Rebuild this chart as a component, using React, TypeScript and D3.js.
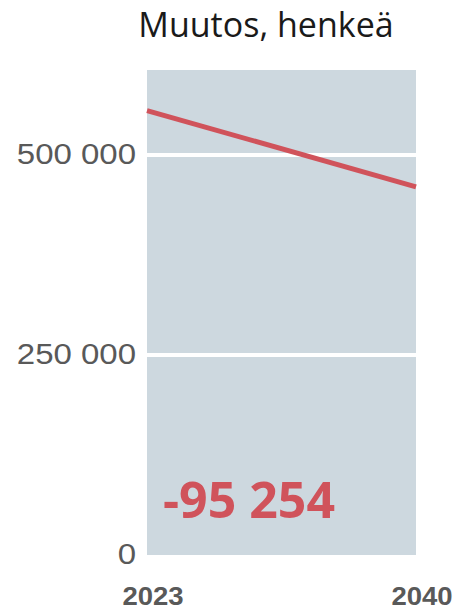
import React from 'react';
import * as d3 from 'd3';

const years = [2023, 2040];
const population = [555500, 460246];
const yTicks = [0, 250000, 500000];
const title = 'Muutos, henkeä';

const W = 458, H = 611;
const plot = { left: 147, right: 416, top: 70, bottom: 555 };

const fmt = (v: number) => d3.format(',')(v).replace(/,/g, ' ');

const App = () => {
    const x = d3.scaleLinear().domain([years[0], years[1]]).range([plot.left, plot.right]);
    const y = d3.scaleLinear().domain([0, 606250]).range([plot.bottom, plot.top]);

    const line = d3.line<number>()
        .x((d, i) => x(years[i]))
        .y(d => y(d));

    const change = population[population.length - 1] - population[0];
    const changeText = (change < 0 ? '-' : '+') + fmt(Math.abs(change));

    return (
        <svg width={W} height={H} style={{ position: 'absolute', left: 0, top: 0 }}>
            <text x={266} y={37} textAnchor="middle" fontFamily="Open Sans" fontSize={34} fill="#1a1a1a">
                {title}
            </text>
            <rect x={plot.left} y={plot.top} width={plot.right - plot.left} height={plot.bottom - plot.top} fill="#cdd8df" />
            {yTicks.filter(t => t > 0).map(t => (
                <line key={t} x1={plot.left} x2={plot.right} y1={y(t)} y2={y(t)} stroke="#fff" strokeWidth={4} />
            ))}
            <path d={line(population) || ''} fill="none" stroke="#d0535b" strokeWidth={5} />
            {yTicks.map(t => (
                <text key={t} transform={`translate(136,${y(t) - 2}) scale(1.1,1)`} textAnchor="end" dy="0.35em"
                    fontFamily="Liberation Sans" fontSize={30} fill="#595959">
                    {fmt(t)}
                </text>
            ))}
            {years.map(yr => (
                <text key={yr} transform={`translate(${x(yr) + 6},605) scale(1.1,1)`} textAnchor="middle"
                    fontFamily="Liberation Sans" fontWeight="bold" fontSize={25} fill="#595959">
                    {yr}
                </text>
            ))}
            <text x={163} y={518} fontFamily="Open Sans" fontWeight="bold" fontSize={50} fill="#d0535b">
                {changeText}
            </text>
        </svg>
    );
};

export default App;
